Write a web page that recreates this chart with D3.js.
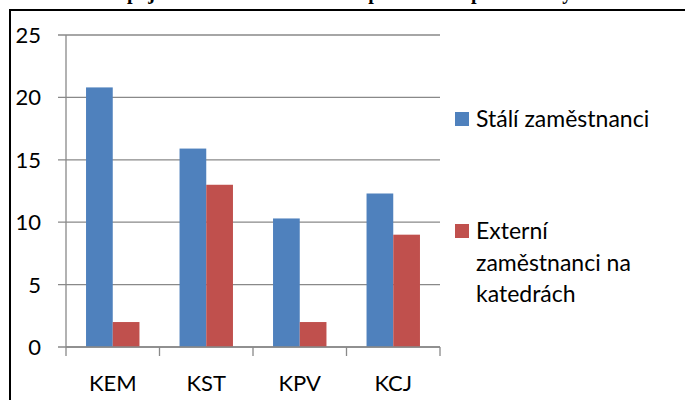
<!DOCTYPE html>
<html>
<head>
  <meta charset="utf-8">
  <script src="https://d3js.org/d3.v7.min.js"></script>
  <style>
    body { margin: 0; background: #fff; }
    text { font-family: Lato, "Open Sans", sans-serif; fill: #000; }
    .title { font-family: "Liberation Serif", serif; font-weight: bold; }
  </style>
</head>
<body>
  <svg id="chart" width="685" height="400"></svg>
  <script>
    const categories = ["KEM", "KST", "KPV", "KCJ"];
    const seriesNames = ["Stálí zaměstnanci", "Externí zaměstnanci na katedrách"];
    const stali = [20.8, 15.9, 10.3, 12.3];
    const externi = [2, 13, 2, 9];
    const yTicks = [0, 5, 10, 15, 20, 25];
    const colors = ["#4F81BD", "#C0504D"];
    const titleText = "Zapojení interních a externích pracovníků pro katedry";

    const svg = d3.select("#chart");

    // title, cropped by the top edge as in the source image
    svg.append("text")
      .attr("class", "title")
      .attr("x", 338)
      .attr("y", -1)
      .attr("text-anchor", "middle")
      .attr("font-size", 20)
      .text(titleText);

    // frame
    svg.append("path")
      .attr("d", "M10,400V10H685")
      .attr("fill", "none")
      .attr("stroke", "#000")
      .attr("stroke-width", 2);

    const x0 = 66, x1 = 440;
    const y = d3.scaleLinear().domain([0, 25]).range([347, 35]);
    const x = d3.scaleBand().domain(categories).range([x0, x1]);
    const inner = d3.scaleBand().domain([0, 1]).range([0, x.bandwidth()])
      .paddingOuter(0.75).paddingInner(0);

    // gridlines + y ticks
    svg.append("g").selectAll("line").data(yTicks).join("line")
      .attr("x1", x0 - 8).attr("x2", x1)
      .attr("y1", d => y(d)).attr("y2", d => y(d))
      .attr("stroke", "#898989").attr("stroke-width", 1.3);

    svg.append("g").selectAll("text").data(yTicks).join("text")
      .attr("x", 41).attr("y", d => y(d))
      .attr("dy", "0.36em")
      .attr("text-anchor", "end")
      .attr("font-size", 22)
      .text(d => d);

    // y axis line
    svg.append("line")
      .attr("x1", x0).attr("x2", x0)
      .attr("y1", y(25)).attr("y2", y(0))
      .attr("stroke", "#898989").attr("stroke-width", 1.3);

    // bars
    const groups = svg.append("g").selectAll("g").data(categories).join("g")
      .attr("transform", d => `translate(${x(d)},0)`);
    groups.selectAll("rect")
      .data((d, i) => [stali[i], externi[i]])
      .join("rect")
      .attr("x", (d, j) => inner(j))
      .attr("width", inner.bandwidth())
      .attr("y", d => y(d))
      .attr("height", d => y(0) - y(d))
      .attr("fill", (d, j) => colors[j]);

    // x axis
    svg.append("line")
      .attr("x1", x0).attr("x2", x1)
      .attr("y1", y(0)).attr("y2", y(0))
      .attr("stroke", "#898989").attr("stroke-width", 1.3);
    const xTicks = categories.map(c => x(c)).concat([x1]);
    svg.append("g").selectAll("line").data(xTicks).join("line")
      .attr("x1", d => d).attr("x2", d => d)
      .attr("y1", y(0)).attr("y2", y(0) + 9)
      .attr("stroke", "#898989").attr("stroke-width", 1.3);
    svg.append("g").selectAll("text").data(categories).join("text")
      .attr("x", d => x(d) + x.bandwidth() / 2)
      .attr("y", 391)
      .attr("text-anchor", "middle")
      .attr("font-size", 22)
      .text(d => d);

    // legend
    const legendLines = [["Stálí zaměstnanci"], ["Externí", "zaměstnanci na", "katedrách"]];
    const legendY = [112, 224];
    legendLines.forEach((lines, i) => {
      svg.append("rect")
        .attr("x", 455).attr("y", legendY[i])
        .attr("width", 14).attr("height", 14)
        .attr("fill", colors[i]);
      const t = svg.append("text")
        .attr("x", 476).attr("y", legendY[i] + 15)
        .attr("font-size", 23)
        .attr("aria-label", seriesNames[i]);
      t.selectAll("tspan").data(lines).join("tspan")
        .attr("x", 476)
        .attr("dy", (d, k) => k === 0 ? 0 : 31.5)
        .text(d => d);
    });
  </script>
</body>
</html>
